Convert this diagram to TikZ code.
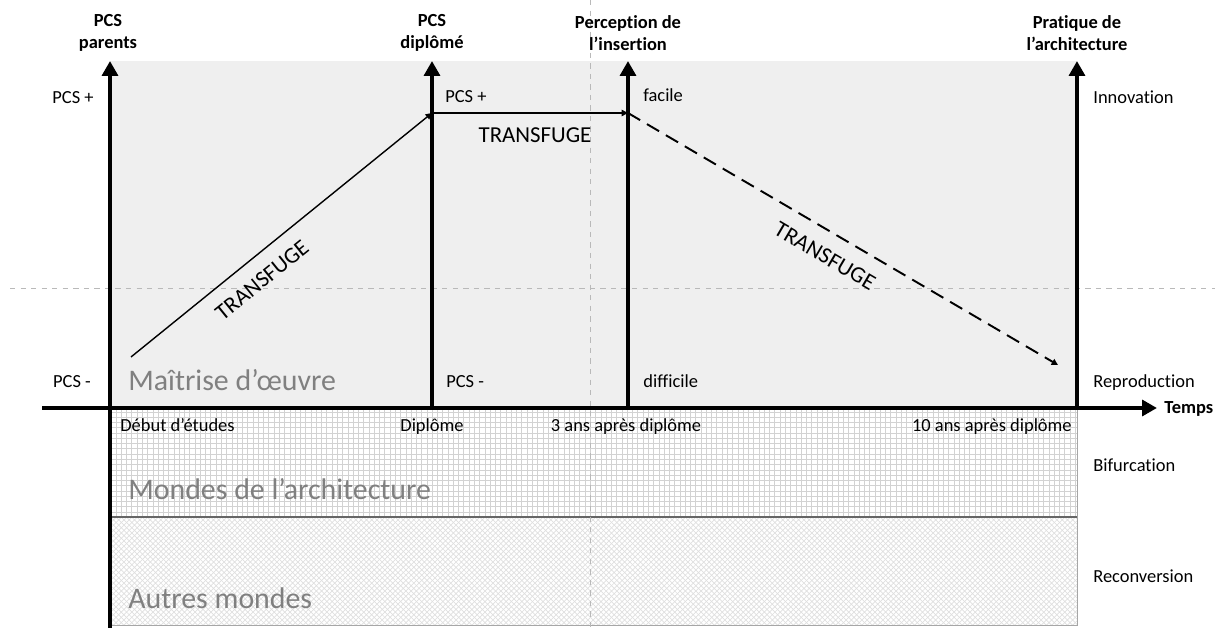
\documentclass[tikz,border=0pt]{standalone}
\usepackage{fontspec}
\setmainfont{Carlito}[Ligatures=NoCommon]
\usetikzlibrary{arrows.meta,patterns}
\definecolor{zonegrey}{RGB}{239,239,239}
\definecolor{textgrey}{RGB}{128,128,128}

\begin{document}
\begin{tikzpicture}[x=0.02cm,y=-0.02cm,
  axe/.style={line width=2.8pt,-{Triangle[width=9pt,length=8.5pt]}},
  fleche/.style={line width=0.8pt,-{Triangle[width=3.6pt,length=3.6pt]}},
  lab/.style={font=\fontsize{10.5}{12.5}\selectfont,inner sep=0pt,text height=7pt,text depth=1.9pt},
  titre/.style={font=\fontsize{10.5}{12.8}\selectfont\bfseries,align=center,inner sep=0pt},
  trans/.style={font=\fontsize{13}{15}\selectfont,inner sep=0pt},
  monde/.style={font=\fontsize{17}{20}\selectfont,text=textgrey,anchor=west,inner sep=0pt,text height=11.5pt,text depth=3pt},
  guide/.style={dashed,gray!55,line width=0.5pt}]

\useasboundingbox (0,0) rectangle (1215,628);

% zones
\fill[zonegrey] (110,61) rectangle (1077,408);
\draw[gray!70,line width=0.5pt,pattern=grid,pattern color=gray!35] (110,408) rectangle (1077,517);
\draw[gray!70,line width=0.5pt,pattern=crosshatch,pattern color=gray!25] (110,517) rectangle (1077,625);
\draw[gray!80!black,line width=0.9pt] (110,517) -- (1077,517);

% guides
\coordinate (gh1) at (10,288);
\coordinate (gh2) at (1215,288);
\coordinate (gv1) at (590,0);
\coordinate (gv2) at (590,628);
\draw[guide] (gh1) -- (gh2);
\draw[guide] (gv1) -- (gv2);

% axes
\coordinate (t0) at (42,408);
\coordinate (t1) at (1157,408);
\coordinate (a1) at (110,628);
\coordinate (h1) at (110,61);
\coordinate (a2) at (432,408);
\coordinate (h2) at (432,61);
\coordinate (a3) at (628,408);
\coordinate (h3) at (628,61);
\coordinate (a4) at (1077,408);
\coordinate (h4) at (1077,61);
\draw[axe] (t0) -- (t1);
\draw[axe] (a1) -- (h1);
\draw[axe] (a2) -- (h2);
\draw[axe] (a3) -- (h3);
\draw[axe] (a4) -- (h4);

% trajectoire
\coordinate (p1) at (131,357);
\coordinate (p2) at (432,113);
\coordinate (p3) at (628,113);
\coordinate (p4) at (1058,365);
\draw[fleche] (p1) -- (p2);
\draw[fleche] (p2) -- (p3);
\draw[fleche,line width=1.1pt,dash pattern=on 8pt off 4.5pt] (p3) -- (p4);
\node[trans,rotate=39] (tr1) at (262,280) {TRANSFUGE};
\node[trans] (tr2) at (535,135) {TRANSFUGE};
\node[trans,rotate=-30.4] (tr3) at (825,256) {TRANSFUGE};

% titres
\node[titre] (tpar) at (108,33) {PCS\\parents};
\node[titre] (tdip) at (432,33) {PCS\\diplômé};
\node[titre] (tper) at (628,33) {Perception de\\l’insertion};
\node[titre] (tpra) at (1077,33) {Pratique de\\l’architecture};
\node[lab,font=\fontsize{10.5}{12.5}\selectfont\bfseries,anchor=west] (temps) at (1164,409) {Temps};

% niveaux
\node[lab] (pp1) at (73,99) {PCS +};
\node[lab] (pm1) at (72,383) {PCS -};
\node[lab,anchor=west] (pp2) at (445,98) {PCS +};
\node[lab,anchor=west] (pm2) at (446,383) {PCS -};
\node[lab,anchor=west] (fac) at (643,97) {facile};
\node[lab,anchor=west] (dif) at (643,383) {difficile};
\node[lab,anchor=west] (inn) at (1093,99) {Innovation};
\node[lab,anchor=west] (rep) at (1093,383) {Reproduction};
\node[lab,anchor=west] (bif) at (1093,467) {Bifurcation};
\node[lab,anchor=west] (rec) at (1093,578) {Reconversion};

% dates
\node[lab,anchor=west] (d1) at (120,427) {Début d’études};
\node[lab] (d2) at (432,427) {Diplôme};
\node[lab] (d3) at (626,427) {3 ans après diplôme};
\node[lab,anchor=east] (d4) at (1072,427) {10 ans après diplôme};

% mondes
\node[monde] (m1) at (128,383) {Maîtrise d’œuvre};
\node[monde] (m2) at (128,492) {Mondes de l’architecture};
\node[monde] (m3) at (128,601) {Autres mondes};
\end{tikzpicture}
\end{document}
